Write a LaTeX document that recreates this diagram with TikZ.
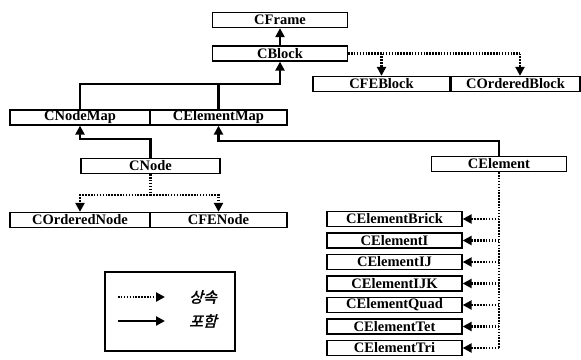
\documentclass[tikz,border=0pt]{standalone}
\usepackage{fontspec}
\setmainfont{Liberation Serif}
\newfontfamily\krfont[FakeSlant=0.25,FakeBold=2]{Noto Sans CJK KR}
\usetikzlibrary{arrows.meta,positioning}

\begin{document}
\begin{tikzpicture}[x=1pt,y=-1pt,
  cls/.style={draw,line width=1.3pt,minimum width=135pt,minimum height=15pt,inner sep=0pt,font=\fontsize{14.5}{14.5}\selectfont\bfseries},
  link/.style={line width=2.2pt},
  has/.style={link,-{Triangle[length=9pt,width=9pt]}},
  dotline/.style={line width=2.2pt,dash pattern=on 1.5pt off 1.4pt},
  isa/.style={dotline,-{Triangle[length=9pt,width=9pt]}}]
\useasboundingbox (0,0) rectangle (581,359);

% class boxes
\node[cls] (frame) at (280,20) {CFrame};
\node[cls] (block) at (280,53.5) {CBlock};
\node[cls,minimum width=137pt] (feblock) at (381.5,84) {CFEBlock};
\node[cls,minimum width=129pt] (oblock) at (515.5,84) {COrderedBlock};
\node[cls,minimum width=140pt] (nodemap) at (80,117.5) {CNodeMap};
\node[cls,minimum width=137pt] (elemmap) at (218.5,117.5) {CElementMap};
\node[cls,minimum width=139pt] (cnode) at (150.5,166) {CNode};
\node[cls] (celement) at (499,164) {CElement};
\node[cls,minimum width=140pt] (onode) at (80,220) {COrderedNode};
\node[cls,minimum width=137pt] (fenode) at (218.5,220) {CFENode};
\foreach \nm [count=\i] in {Brick,I,IJ,IJK,Quad,Tet,Tri}
  \node[cls] (el\i) at (394.5,{197.5+21.5*\i}) {CElement\nm};

% containment
\draw[has] (block.north) -- (frame.south);
\draw[has] (nodemap.north) -- ++(0,-25) -| (block.south);
\draw[link] (elemmap.north) -- ++(0,-25);
\draw[has] (cnode.north) -- ++(0,-19) -| (nodemap.south);
\draw[has] (celement.north) -- ++(0,-15) -| (elemmap.south);

% inheritance
\coordinate (bj) at (520,53.5);
\draw[dotline] (block.east) -- (bj);
\draw[isa] (bj) -- (bj |- oblock.north);
\draw[isa] (block.east -| feblock.north) -- (feblock.north);
\draw[dotline] (cnode.south) -- ++(0,21) coordinate (nj);
\draw[isa] (nj) -| (onode.north);
\draw[isa] (nj) -| (fenode.north);
\draw[dotline] (celement.south) -- (celement.south |- el7.east);
\foreach \i in {1,...,7}
  \draw[isa] (celement.south |- el\i.east) -- (el\i.east);

% legend
\node[draw,line width=1.1pt,minimum width=130pt,minimum height=79pt] (legend) at (170,311.5) {};
\coordinate (la) at (118,297);
\coordinate (lb) at (118,321);
\draw[isa] (la) -- ++(47,0);
\draw[has] (lb) -- ++(47,0);
\node[font=\krfont\fontsize{15}{15}\selectfont] (lisa) at (203,297) {상속};
\node[font=\krfont\fontsize{15}{15}\selectfont] (lhas) at (203,321) {포함};
\end{tikzpicture}
\end{document}
